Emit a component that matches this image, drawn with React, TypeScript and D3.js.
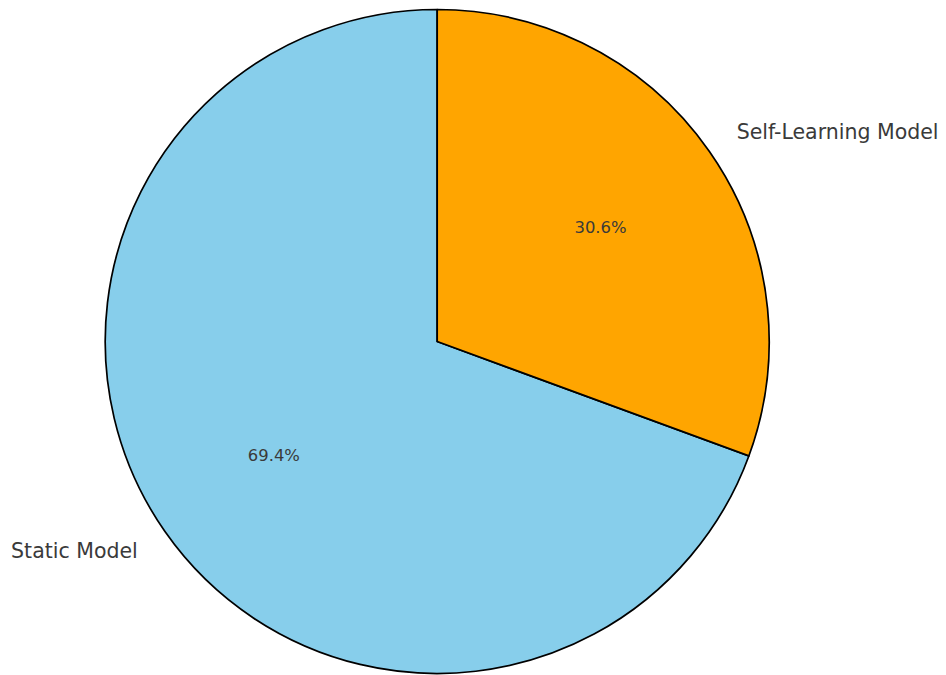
import React from "react";
import * as d3 from "d3";

const categories = ["Static Model", "Self-Learning Model"];
const values = [69.4, 30.6];
const colors = ["#87CEEB", "#FFA500"];

const W = 946;
const H = 675;
const cx = 437.2;
const cy = 341.5;
const r = 332;

export default function App() {
  // Matplotlib-style: start at top, counterclockwise. In d3 (clockwise from top), go negative.
  const pie = d3
    .pie<number>()
    .sort(null)
    .startAngle(0)
    .endAngle(-2 * Math.PI)
    .value((d) => d);
  const arcs = pie(values);
  const arc = d3.arc<d3.PieArcDatum<number>>().innerRadius(0).outerRadius(r);
  const total = d3.sum(values);

  return (
    <svg
      width={W}
      height={H}
      style={{ position: "absolute", left: 0, top: 0, background: "#fff" }}
      fontFamily="DejaVu Sans"
    >
      <g transform={`translate(${cx},${cy})`}>
        {arcs.map((a, i) => (
          <path
            key={i}
            d={arc(a) || ""}
            fill={colors[i]}
            stroke="#000"
            strokeWidth={1.7}
            strokeLinejoin="round"
          />
        ))}
        {arcs.map((a, i) => {
          const mid = (a.startAngle + a.endAngle) / 2;
          const lx = Math.sin(mid) * r * 1.1;
          const ly = -Math.cos(mid) * r * 1.1;
          const px = Math.sin(mid) * r * 0.6;
          const py = -Math.cos(mid) * r * 0.6;
          const pct = ((values[i] / total) * 100).toFixed(1) + "%";
          return (
            <g key={"t" + i}>
              <text
                x={lx}
                y={ly}
                textAnchor={lx >= 0 ? "start" : "end"}
                dominantBaseline="central"
                fontSize={20.5}
                fill="#3a3a3a"
              >
                {categories[i]}
              </text>
              <text
                x={px}
                y={py}
                textAnchor="middle"
                dominantBaseline="central"
                fontSize={16.4}
                fill="#3a3a3a"
              >
                {pct}
              </text>
            </g>
          );
        })}
      </g>
    </svg>
  );
}
